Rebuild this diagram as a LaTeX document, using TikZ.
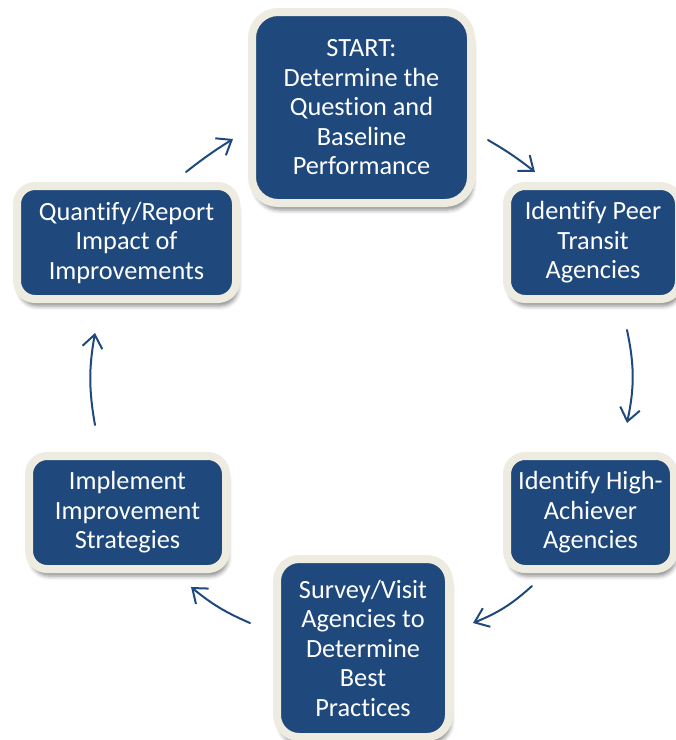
\documentclass[tikz,border=0pt]{standalone}
\usepackage{fontspec}
\setmainfont{Carlito}[Ligatures=NoCommon]
\usetikzlibrary{arrows.meta,shadows.blur}
\definecolor{boxblue}{HTML}{1F497D}
\definecolor{cream}{HTML}{EEECE1}
\tikzset{
  stepbox/.style={draw=cream, line width=8pt, fill=boxblue, text=white,
    align=center, inner sep=0pt, rounded corners=18pt,
    font=\fontsize{26.3}{29.5}\selectfont,
    blur shadow={shadow xshift=2pt, shadow yshift=-7pt, shadow blur radius=4pt, shadow opacity=45}},
  flow/.style={draw=boxblue, line width=2pt, line cap=round,
    -{Straight Barb[length=13pt,width=20pt,line width=2pt]}}
}
\begin{document}
\begin{tikzpicture}[x=1pt,y=-1pt]
\useasboundingbox (0,0) rectangle (676,740);
\node[stepbox, rounded corners=26pt, minimum width=219pt, minimum height=191pt] (start) at (361.5,107.5)
  {START:\\Determine the\\Question and\\Baseline\\Performance};
\node[stepbox, minimum width=172pt, minimum height=113pt] (peer) at (593,242.5)
  {Identify Peer\\Transit\\Agencies};
\node[stepbox, minimum width=167pt, minimum height=113pt] (high) at (590.5,512.5)
  {Identify High-\\Achiever\\Agencies};
\node[stepbox, rounded corners=22pt, minimum width=172pt, minimum height=178pt] (survey) at (363,648)
  {Survey/Visit\\Agencies to\\Determine\\Best\\Practices};
\node[stepbox, minimum width=197pt, minimum height=113pt] (impl) at (127.5,512.5)
  {Implement\\Improvement\\Strategies};
\node[stepbox, minimum width=219pt, minimum height=113pt] (quant) at (126.5,242.5)
  {Quantify/Report\\Impact of\\Improvements};

\coordinate (a1s) at (488,140); \coordinate (a1e) at (535,172);
\coordinate (a2s) at (627,330); \coordinate (a2e) at (627,423);
\coordinate (a3s) at (532,586); \coordinate (a3e) at (473,623);
\coordinate (a4s) at (250,623); \coordinate (a4e) at (191,587);
\coordinate (a5s) at (95,425);  \coordinate (a5e) at (95,333);
\coordinate (a6s) at (186,172); \coordinate (a6e) at (233,139);

\draw[flow] (a1s) to[bend left=4] (a1e);
\draw[flow] (a2s) to[bend left=12] (a2e);
\draw[flow] (a3s) to[bend left=10] (a3e);
\draw[flow] (a4s) to[bend left=8] (a4e);
\draw[flow] (a5s) to[bend left=10] (a5e);
\draw[flow] (a6s) to[bend left=3] (a6e);
\end{tikzpicture}
\end{document}
